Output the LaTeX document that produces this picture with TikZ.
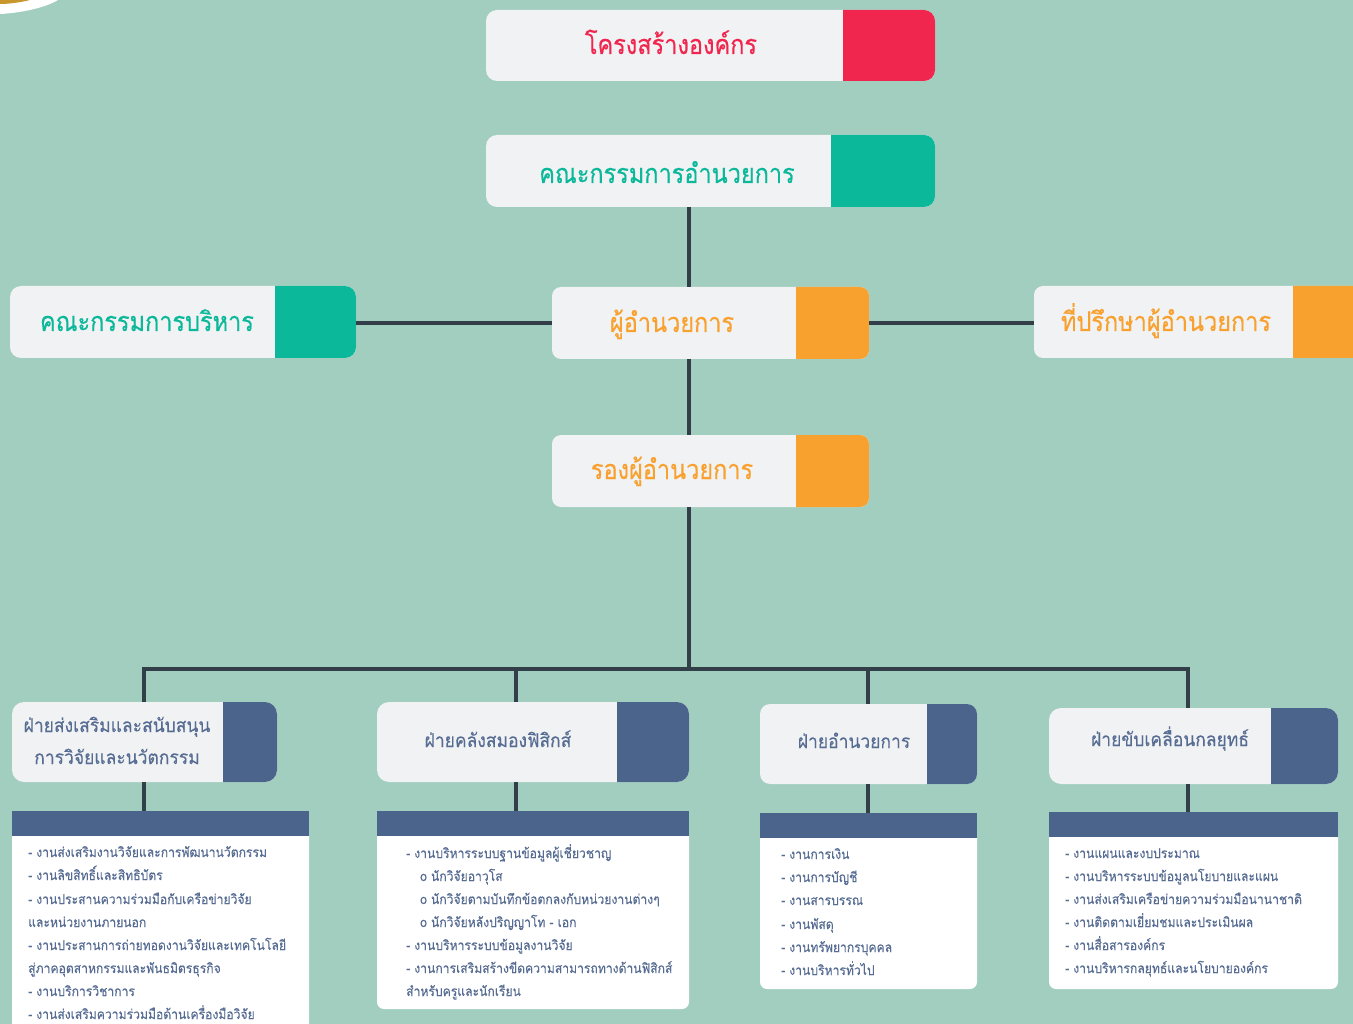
\documentclass[tikz,border=0pt]{standalone}
\usepackage{fontspec}
\newfontfamily\titlefont[Script=Thai,FakeStretch=0.87,FakeBold=0.4]{Loma}
\newfontfamily\deptfont[Script=Thai,FakeStretch=0.92,FakeBold=0.2]{Loma}
\newfontfamily\listfont[Script=Thai,FakeStretch=0.9,FakeBold=0.2]{Loma}
\definecolor{bgc}{HTML}{A1CEBF}
\definecolor{lightc}{HTML}{F1F2F4}
\definecolor{redc}{HTML}{F0264F}
\definecolor{greenc}{HTML}{0CB89A}
\definecolor{orangec}{HTML}{F9A12E}
\definecolor{navyc}{HTML}{4A648C}
\definecolor{linec}{HTML}{333F48}
\definecolor{listc}{HTML}{566C92}
\definecolor{goldc}{HTML}{C8962C}
\tikzset{
  x=1pt,y=-1pt,
  cardbox/.style={fill=lightc,draw=none,rounded corners=#1,inner sep=0pt,outer sep=0pt},
  bigtitle/.style={font=\titlefont\fontsize{27}{27}\selectfont,inner sep=0pt,anchor=base},
  depttitle/.style={font=\deptfont\fontsize{19}{19}\selectfont,text=listc,inner sep=0pt,anchor=base},
  linktrunk/.style={draw=linec,line width=4pt},
  paneltext/.style={font=\listfont\fontsize{13.5}{13.5}\selectfont,text=listc,anchor=base west,inner sep=0pt},
}
% name, x0,y0,x1,y1, split, colour, radius
\newcommand{\cardshape}[8]{%
  \pgfmathsetmacro{\cw}{#4-#2}\pgfmathsetmacro{\ch}{#5-#3}%
  \pgfmathsetmacro{\ccx}{(#2+#4)/2}\pgfmathsetmacro{\ccy}{(#3+#5)/2}%
  \node[cardbox=#8pt,minimum width=\cw pt,minimum height=\ch pt] (#1) at (\ccx,\ccy) {};
  \fill[#7] (#6,#3) {[rounded corners=#8pt] -- (#4,#3) -- (#4,#5)} -- (#6,#5) -- cycle;
}
% name, x0,y0,x1, yhead, ybottom
\newcommand{\panelshape}[6]{%
  \pgfmathsetmacro{\cw}{#4-#2}\pgfmathsetmacro{\ch}{#5-#3}%
  \pgfmathsetmacro{\ccx}{(#2+#4)/2}\pgfmathsetmacro{\ccy}{(#3+#5)/2}%
  \fill[white] (#2,#5) {[rounded corners=7pt] -- (#2,#6) -- (#4,#6)} -- (#4,#5) -- cycle;
  \node[fill=navyc,inner sep=0pt,outer sep=0pt,minimum width=\cw pt,minimum height=\ch pt] (#1) at (\ccx,\ccy) {};
}
\begin{document}
\begin{tikzpicture}
\useasboundingbox (0,0) rectangle (1353,1024);
\clip (0,0) rectangle (1353,1024);
\fill[bgc] (0,0) rectangle (1353,1024);
% corner ornament
\fill[white] (0,0) -- (58,0) .. controls (45,8) and (20,13) .. (0,14) -- cycle;
\fill[goldc] (0,0) -- (30,0) .. controls (22,2) and (10,4) .. (0,4) -- cycle;

\cardshape{title}{486}{10}{935}{81}{843}{redc}{11}
\cardshape{board}{486}{135}{935}{207}{831}{greenc}{11}
\cardshape{exec}{10}{286}{356}{358}{275}{greenc}{11}
\cardshape{dir}{552}{287}{869}{359}{796}{orangec}{9}
\cardshape{adv}{1034}{286}{1370}{358}{1293}{orangec}{9}
\cardshape{dep}{552}{435}{869}{507}{796}{orangec}{9}
\cardshape{da}{12}{702}{277}{782}{223}{navyc}{12}
\cardshape{db}{377}{702}{689}{782}{617}{navyc}{12}
\cardshape{dc}{760}{704}{977}{784}{927}{navyc}{10}
\cardshape{dd}{1049}{708}{1338}{784}{1271}{navyc}{12}

\node[bigtitle,text=redc] (titlet) at (671,54) {โครงสร้างองค์กร};
\node[bigtitle,text=greenc] (boardt) at (667,183) {คณะกรรมการอำนวยการ};
\node[bigtitle,text=greenc] (exect) at (147,331) {คณะกรรมการบริหาร};
\node[bigtitle,text=orangec] (dirt) at (672,332) {ผู้อำนวยการ};
\node[bigtitle,text=orangec] (advt) at (1166,331) {ที่ปรึกษาผู้อำนวยการ};
\node[bigtitle,text=orangec] (dept) at (672,479) {รองผู้อำนวยการ};
\node[depttitle] (dat1) at (117,732) {ฝ่ายส่งเสริมและสนับสนุน};
\node[depttitle] (dat2) at (117,764) {การวิจัยและนวัตกรรม};
\node[depttitle] (dbt) at (498,747) {ฝ่ายคลังสมองฟิสิกส์};
\node[depttitle] (dct) at (854,748) {ฝ่ายอำนวยการ};
\node[depttitle] (ddt) at (1170,746) {ฝ่ายขับเคลื่อนกลยุทธ์};

\panelshape{pa}{12}{811}{309}{836}{1060}
\panelshape{pb}{377}{811}{689}{836}{1009}
\panelshape{pc}{760}{813}{977}{838}{989}
\panelshape{pd}{1049}{812}{1338}{837}{989}

\coordinate (trunk) at (689,669);
\coordinate (ka) at (144,669);
\coordinate (kb) at (516,669);
\coordinate (kc) at (868,669);
\coordinate (kd) at (1188,669);
\draw[linktrunk] (board.south -| trunk) -- (dir.north -| trunk);
\draw[linktrunk] (dir.south -| trunk) -- (dep.north -| trunk);
\draw[linktrunk] (dep.south -| trunk) -- (trunk);
\draw[linktrunk] (exec.east |- dir) -- (dir.west);
\draw[linktrunk] (dir.east) -- (adv.west |- dir);
\draw[linktrunk,line cap=rect] (ka) -- (kd);
\draw[linktrunk] (ka) -- (da.north -| ka);
\draw[linktrunk] (kb) -- (db.north -| kb);
\draw[linktrunk] (kc) -- (dc.north -| kc);
\draw[linktrunk] (kd) -- (dd.north -| kd);
\draw[linktrunk] (da.south -| ka) -- (pa.north -| ka);
\draw[linktrunk] (db.south -| kb) -- (pb.north -| kb);
\draw[linktrunk] (dc.south -| kc) -- (pc.north -| kc);
\draw[linktrunk] (dd.south -| kd) -- (pd.north -| kd);

\node[paneltext] (a1) at (28,857) {- งานส่งเสริมงานวิจัยและการพัฒนานวัตกรรม};
\node[paneltext] (a2) at (28,880) {- งานลิขสิทธิ์และสิทธิบัตร};
\node[paneltext] (a3) at (28,904) {- งานประสานความร่วมมือกับเครือข่ายวิจัย};
\node[paneltext] (a4) at (28,927) {และหน่วยงานภายนอก};
\node[paneltext] (a5) at (28,950) {- งานประสานการถ่ายทอดงานวิจัยและเทคโนโลยี};
\node[paneltext] (a6) at (28,973) {สู่ภาคอุตสาหกรรมและพันธมิตรธุรกิจ};
\node[paneltext] (a7) at (28,996) {- งานบริการวิชาการ};
\node[paneltext] (a8) at (28,1019) {- งานส่งเสริมความร่วมมือด้านเครื่องมือวิจัย};

\node[paneltext] (b1) at (406,858) {- งานบริหารระบบฐานข้อมูลผู้เชี่ยวชาญ};
\node[paneltext] (b2) at (420,881) {o นักวิจัยอาวุโส};
\node[paneltext] (b3) at (420,904) {o นักวิจัยตามบันทึกข้อตกลงกับหน่วยงานต่างๆ};
\node[paneltext] (b4) at (420,927) {o นักวิจัยหลังปริญญาโท - เอก};
\node[paneltext] (b5) at (406,950) {- งานบริหารระบบข้อมูลงานวิจัย};
\node[paneltext] (b6) at (406,973) {- งานการเสริมสร้างขีดความสามารถทางด้านฟิสิกส์};
\node[paneltext] (b7) at (406,996) {สำหรับครูและนักเรียน};

\node[paneltext] (c1) at (781,859) {- งานการเงิน};
\node[paneltext] (c2) at (781,882) {- งานการบัญชี};
\node[paneltext] (c3) at (781,905) {- งานสารบรรณ};
\node[paneltext] (c4) at (781,929) {- งานพัสดุ};
\node[paneltext] (c5) at (781,952) {- งานทรัพยากรบุคคล};
\node[paneltext] (c6) at (781,975) {- งานบริหารทั่วไป};

\node[paneltext] (d1) at (1065,858) {- งานแผนและงบประมาณ};
\node[paneltext] (d2) at (1065,881) {- งานบริหารระบบข้อมูลนโยบายและแผน};
\node[paneltext] (d3) at (1065,904) {- งานส่งเสริมเครือข่ายความร่วมมือนานาชาติ};
\node[paneltext] (d4) at (1065,927) {- งานติดตามเยี่ยมชมและประเมินผล};
\node[paneltext] (d5) at (1065,950) {- งานสื่อสารองค์กร};
\node[paneltext] (d6) at (1065,973) {- งานบริหารกลยุทธ์และนโยบายองค์กร};
\end{tikzpicture}
\end{document}
